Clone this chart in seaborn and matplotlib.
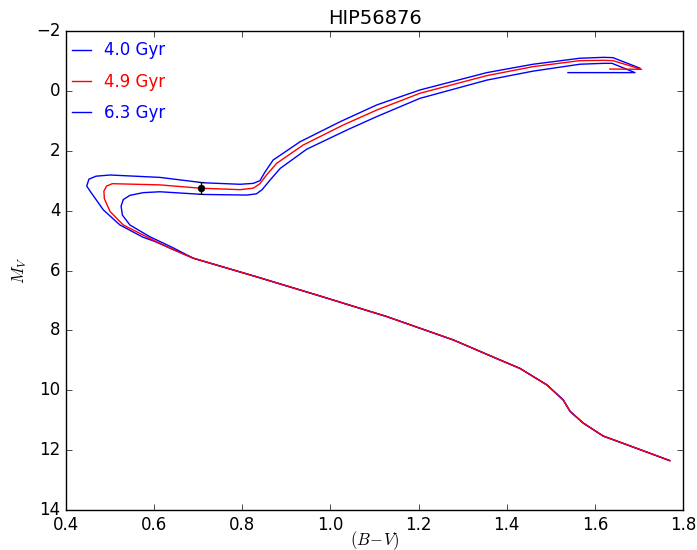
import matplotlib
matplotlib.use("Agg")
import matplotlib.pyplot as plt
import seaborn as sns
import pandas as pd
import numpy as np

plt.style.use("classic")

# ---- data ----
ms_bv = [1.770, 1.680, 1.619, 1.574, 1.544, 1.528, 1.491, 1.430, 1.385, 1.279, 1.128, 0.976, 0.830, 0.689]
ms_mv = [12.35, 11.86, 11.53, 11.10, 10.71, 10.32, 9.82, 9.27, 8.99, 8.32, 7.54, 6.85, 6.20, 5.59]

iso40_bv = [0.640, 0.600, 0.575, 0.5225, 0.485, 0.458, 0.447, 0.452, 0.468, 0.500, 0.613, 0.712, 0.795, 0.825,
            0.840, 0.852, 0.870, 0.931, 1.022, 1.105, 1.203, 1.355, 1.460, 1.566, 1.620, 1.641, 1.702]
iso40_mv = [5.28, 5.02, 4.89, 4.48, 3.98, 3.42, 3.18, 2.95, 2.85, 2.81, 2.89, 3.07, 3.12, 3.09,
            3.00, 2.70, 2.31, 1.70, 1.03, 0.47, -0.03, -0.61, -0.89, -1.09, -1.12, -1.11, -0.76]

iso49_bv = [0.640, 0.600, 0.530, 0.500, 0.487, 0.486, 0.492, 0.505, 0.613, 0.704, 0.795, 0.825, 0.840,
            0.855, 0.878, 0.938, 1.029, 1.105, 1.203, 1.355, 1.460, 1.566, 1.620, 1.641, 1.706, 1.634]
iso49_mv = [5.28, 5.00, 4.48, 4.03, 3.60, 3.35, 3.18, 3.10, 3.14, 3.25, 3.30, 3.25, 3.10,
            2.81, 2.42, 1.81, 1.14, 0.64, 0.08, -0.51, -0.81, -1.01, -1.02, -1.01, -0.72, -0.73]

iso63_bv = [0.640, 0.590, 0.545, 0.528, 0.525, 0.530, 0.545, 0.575, 0.613, 0.712, 0.810, 0.832, 0.845,
            0.863, 0.886, 0.946, 1.037, 1.105, 1.203, 1.355, 1.460, 1.566, 1.620, 1.639, 1.691, 1.539]
iso63_mv = [5.22, 4.87, 4.48, 4.15, 3.85, 3.63, 3.49, 3.40, 3.37, 3.46, 3.48, 3.44, 3.30,
            2.98, 2.59, 1.95, 1.31, 0.86, 0.25, -0.36, -0.66, -0.89, -0.92, -0.92, -0.61, -0.61]

ages = ["4.0 Gyr", "4.9 Gyr", "6.3 Gyr"]
colors = {"4.0 Gyr": "#0000ff", "4.9 Gyr": "#ff0000", "6.3 Gyr": "#0000ff"}

star_bv = [0.707]
star_mv = [3.25]
star_err = [0.20]

def build(bv, mv, age):
    x = list(ms_bv) + list(bv)
    y = list(ms_mv) + list(mv)
    return pd.DataFrame({"bv": x, "mv": y, "age": age, "order": np.arange(len(x))})

frames = {
    "4.0 Gyr": build(iso40_bv, iso40_mv, "4.0 Gyr"),
    "4.9 Gyr": build(iso49_bv, iso49_mv, "4.9 Gyr"),
    "6.3 Gyr": build(iso63_bv, iso63_mv, "6.3 Gyr"),
}

fig = plt.figure(figsize=(6.97, 5.5), dpi=100)
ax = fig.add_axes([66 / 697, 40 / 550, 617 / 697, 479 / 550])

handles = {}
for age, z in [("4.0 Gyr", 2), ("6.3 Gyr", 2), ("4.9 Gyr", 3)]:
    sns.lineplot(data=frames[age], x="bv", y="mv", sort=False, estimator=None,
                 color=colors[age], lw=1.0, ax=ax, zorder=z)
    handles[age] = ax.lines[-1]

ax.errorbar(star_bv, star_mv, yerr=star_err, fmt="none", ecolor="k", elinewidth=1.0,
            capsize=2, zorder=5)
sns.scatterplot(x=star_bv, y=star_mv, color="k", s=24, edgecolor="k", ax=ax, zorder=6)

ax.set_xlim(0.4, 1.8)
ax.set_ylim(14, -2)
ax.set_xticks(np.arange(0.4, 1.81, 0.2))
ax.set_yticks(np.arange(-2, 14.1, 2))
ax.set_xlabel(r"$(B\!-\!V)$", fontsize=12)
ax.xaxis.set_label_coords(0.5, -0.041)
ax.set_ylabel(r"$M_V$", fontsize=12)
ax.set_title("HIP56876", fontsize=14)

leg = ax.legend([handles[a] for a in ages], ages, loc="upper left", frameon=False,
                fontsize=12, handlelength=1.7, handletextpad=0.5, labelspacing=0.8,
                borderaxespad=0.3, borderpad=0.2, bbox_to_anchor=(-0.0113, 0.9958))
for t, a in zip(leg.get_texts(), ages):
    t.set_color(colors[a])

fig.savefig("out.png", dpi=100)
